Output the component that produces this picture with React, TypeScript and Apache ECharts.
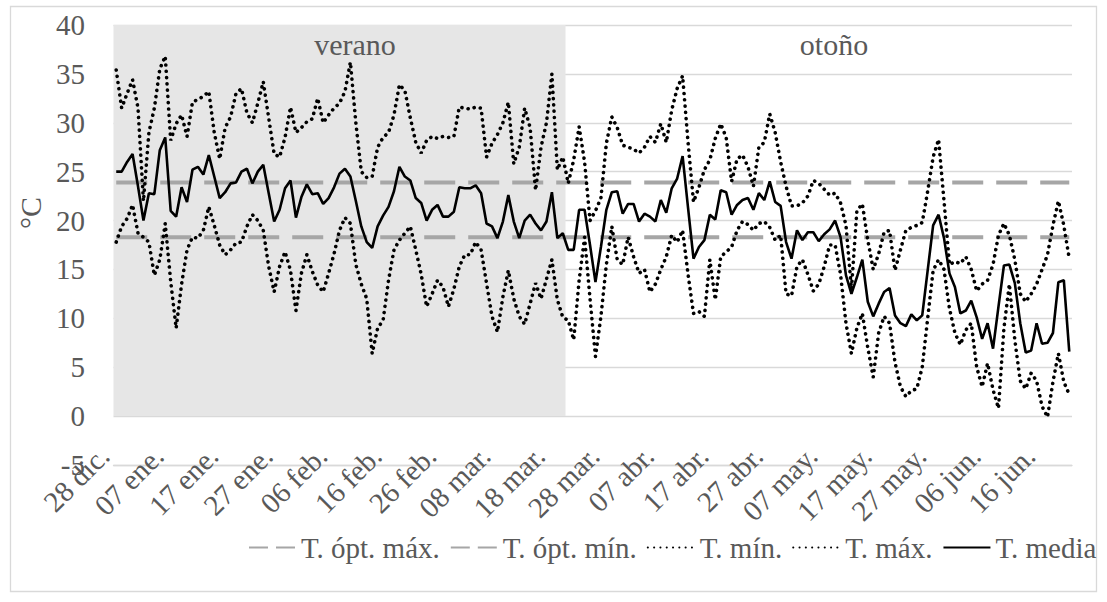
import React, { useEffect, useRef } from "react";
import * as echarts from "echarts";

const FONT = "Liberation Serif, serif";

// Categories: daily dates from 28 dic. to 21 jun. (176 days)
const MONTHS = ["ene.", "feb.", "mar.", "abr.", "may.", "jun.", "jul.", "ago.", "sep.", "oct.", "nov.", "dic."];
const START_DATE = Date.UTC(2018, 11, 28);
const N_DAYS = 176;
const categories: string[] = Array.from({ length: N_DAYS }, (_, i) => {
  const d = new Date(START_DATE + i * 86400000);
  return `${String(d.getUTCDate()).padStart(2, "0")} ${MONTHS[d.getUTCMonth()]}`;
});

const T_OPT_MAX = 23.9;
const T_OPT_MIN = 18.3;
const SUMMER_LAST_DAY = "20 mar.";
const SUMMER_BAND_TOP = 40;

const tMax = [
  35.4, 31.5, 33.0, 34.4, 31.5, 22.0, 29.0, 31.5, 35.5, 36.8,
  28.2, 29.9, 30.8, 28.6, 32.1, 32.4, 32.7, 33.2, 29.0, 26.3,
  29.5, 30.6, 33.0, 33.5, 31.0, 30.0, 32.0, 34.2, 30.5, 26.8,
  26.5, 28.5, 31.6, 29.0, 29.5, 30.1, 30.4, 32.5, 30.0, 30.8,
  31.5, 32.0, 33.2, 36.2, 30.0, 25.0, 24.4, 24.5, 27.5, 28.5,
  29.0, 30.8, 33.9, 33.3, 30.5, 28.0, 26.9, 28.2, 28.6, 28.4,
  28.6, 28.5, 28.6, 31.6, 31.5, 31.4, 31.6, 31.5, 26.5, 27.9,
  28.8, 30.0, 32.1, 25.8, 27.5, 31.5, 29.5, 23.1, 27.5, 30.0,
  35.0, 25.2, 26.5, 23.8, 26.2, 29.6, 26.0, 20.0, 21.0, 22.3,
  27.9, 30.6, 29.5, 27.7, 27.5, 27.3, 26.9, 27.5, 28.6, 28.0,
  29.9, 28.0, 31.3, 33.5, 34.8, 28.0, 21.9, 23.4, 25.2, 26.2,
  28.4, 29.9, 28.5, 24.0, 26.3, 26.7, 25.5, 23.5, 27.5, 28.0,
  30.9, 29.0, 26.0, 23.5, 21.5, 21.5, 21.8, 22.5, 24.1, 23.8,
  23.2, 22.6, 22.8, 21.8, 19.5, 13.0, 21.0, 21.7, 18.0, 15.0,
  16.6, 18.8, 19.0, 14.9, 17.0, 19.0, 19.3, 19.5, 19.8, 23.0,
  26.5, 28.3, 22.0, 15.5, 15.8, 15.6, 16.3, 15.0, 12.8, 13.5,
  13.9, 15.5, 18.5, 19.7, 18.5, 16.0, 12.5, 11.7, 12.5, 13.5,
  15.0, 16.5, 19.5, 22.0, 19.5, 16.1,
];

const tMin = [
  17.8, 19.4, 20.2, 21.6, 18.7, 18.3, 17.8, 14.4, 16.0, 19.7,
  13.8, 9.0, 13.5, 17.0, 18.3, 18.2, 19.0, 21.4, 19.5, 17.5,
  16.5, 17.0, 17.7, 17.8, 19.4, 20.6, 20.0, 19.0, 15.3, 12.7,
  15.3, 16.8, 14.9, 10.8, 14.6, 16.5, 14.8, 13.4, 12.7, 14.6,
  16.6, 19.0, 20.3, 19.7, 15.5, 13.5, 12.0, 6.4, 9.0, 9.8,
  13.9, 17.0, 18.0, 18.7, 19.4, 17.0, 14.5, 11.2, 12.5, 13.9,
  13.2, 11.2, 13.0, 15.3, 16.5, 16.5, 17.8, 17.0, 13.6, 10.2,
  8.6, 12.2, 14.9, 12.0, 10.2, 9.4, 11.5, 13.6, 12.0, 14.0,
  16.0, 11.9, 10.1, 9.8, 7.8, 13.9, 18.3, 12.0, 6.1, 10.2,
  15.5, 19.4, 16.0, 15.5, 18.3, 16.3, 14.6, 15.0, 12.7, 13.5,
  15.0, 16.3, 18.5, 17.8, 19.0, 14.5, 10.5, 10.7, 10.2, 16.0,
  11.9, 16.3, 16.8, 17.3, 19.0, 19.9, 19.6, 19.0, 19.7, 19.9,
  19.3, 18.0, 18.5, 12.5, 12.3, 15.3, 16.0, 14.5, 12.8, 13.5,
  15.3, 17.5, 17.5, 14.5, 9.5, 6.4, 9.0, 10.5, 7.0, 4.0,
  8.5, 10.2, 9.5, 5.5, 3.0, 2.0, 2.6, 2.8, 5.0, 10.0,
  14.9, 16.0, 15.0, 11.0, 8.5, 7.3, 8.8, 9.5, 5.0, 3.0,
  5.4, 2.7, 0.8, 9.0, 13.5, 7.8, 3.6, 2.8, 4.4, 3.6,
  1.0, -0.1, 3.5, 6.4, 3.5, 2.2,
];

const tMedia = [
  25.0, 25.0, 26.0, 26.8, 23.5, 20.0, 22.8, 22.7, 27.2, 28.5,
  21.0, 20.4, 23.4, 21.9, 25.2, 25.5, 24.7, 26.7, 24.5, 22.3,
  22.9, 23.8, 23.9, 25.0, 25.3, 23.8, 25.0, 25.7, 22.8, 19.9,
  21.1, 23.3, 24.1, 20.3, 22.4, 23.7, 22.7, 22.8, 21.7, 22.3,
  23.4, 24.8, 25.3, 24.5, 22.0, 19.4, 17.8, 17.2, 19.4, 20.5,
  21.4, 23.0, 25.5, 24.5, 24.1, 22.3, 21.8, 20.0, 21.1, 21.6,
  20.4, 20.4, 20.9, 23.4, 23.3, 23.3, 23.6, 22.8, 19.7, 19.4,
  18.2, 19.9, 22.6, 19.9, 18.2, 20.0, 20.6, 19.7, 19.0, 19.9,
  22.9, 18.2, 18.7, 17.0, 17.0, 21.1, 21.1, 17.5, 13.7, 17.3,
  21.1, 22.9, 23.0, 20.7, 21.7, 21.7, 19.9, 20.7, 20.4, 19.9,
  22.1, 20.8, 23.3, 24.3, 26.6, 21.3, 16.1, 17.3, 18.0, 20.6,
  20.1, 23.1, 22.9, 20.6, 21.6, 22.1, 22.3, 21.1, 22.8, 22.1,
  24.0, 21.9, 21.5, 17.8, 16.1, 19.0, 18.0, 18.8, 18.8, 17.9,
  18.6, 19.1, 20.0, 18.3, 14.4, 12.5, 14.2, 16.0, 11.7, 10.2,
  11.5, 12.7, 13.1, 10.3, 9.5, 9.2, 10.4, 9.8, 10.3, 14.9,
  19.5, 20.6, 18.2, 14.6, 13.2, 10.5, 10.8, 11.8, 10.1, 7.9,
  9.5, 6.9, 11.2, 15.4, 15.5, 13.6, 9.5, 6.5, 6.7, 9.5,
  7.4, 7.5, 8.5, 13.7, 13.9, 6.6,
];

const Y_MIN = -5;
const Y_MAX = 40;
const Y_STEP = 5;

const SERIES_NAMES = ["T. ópt. máx.", "T. ópt. mín.", "T. mín.", "T. máx.", "T. media"];

export default function App() {
  const ref = useRef<HTMLDivElement>(null);
  useEffect(() => {
    if (!ref.current) return;
    const chart = echarts.init(ref.current, undefined, { renderer: "svg" });
    const dashed = { color: "#a6a6a6", width: 4, type: [31, 13] as number[], cap: "butt" };
    const dotted = { color: "#000000", width: 3.6, type: [0.1, 6.2] as number[], cap: "round" };
    const hiddenSymbol = { color: "rgba(0,0,0,0)", borderWidth: 0, opacity: 0 };
    const summerEnd = categories.indexOf(SUMMER_LAST_DAY);
    chart.setOption({
      animation: false,
      backgroundColor: "#ffffff",
      textStyle: { fontFamily: FONT },
      grid: { left: 113.5, right: 35, top: 25, bottom: 137, containLabel: false },
      xAxis: [
        {
          type: "category",
          data: categories,
          boundaryGap: true,
          axisLine: { show: true, onZero: false, lineStyle: { color: "#d9d9d9", width: 1.3 } },
          axisTick: { show: false },
          axisLabel: {
            interval: 9,
            rotate: 45,
            margin: -26,
            padding: [0, 17, 0, 0],
            fontSize: 29,
            color: "#595959",
            fontFamily: FONT,
          },
          splitLine: { show: false },
        },
        {
          // hidden day-index axis covering the same band, used for the season shading
          type: "value",
          show: false,
          min: -0.5,
          max: N_DAYS - 0.5,
          position: "top",
          splitLine: { show: false },
        },
      ],
      yAxis: {
        type: "value",
        min: Y_MIN,
        max: Y_MAX,
        interval: Y_STEP,
        axisLine: { show: false },
        axisTick: { show: false },
        axisLabel: { fontSize: 29, color: "#595959", margin: 28.5, fontFamily: FONT },
        splitLine: { lineStyle: { color: "#d9d9d9", width: 1.3 } },
      },
      legend: {
        left: 243,
        top: 528,
        width: 900,
        itemWidth: 47,
        itemHeight: 14,
        itemGap: 10,
        itemStyle: hiddenSymbol,
        textStyle: { fontSize: 29, color: "#595959", fontFamily: FONT },
        data: [
          { name: SERIES_NAMES[0], itemStyle: hiddenSymbol, lineStyle: { type: [19, 8] } },
          { name: SERIES_NAMES[1], itemStyle: hiddenSymbol, lineStyle: { type: [19, 8] } },
          { name: SERIES_NAMES[2], itemStyle: hiddenSymbol },
          { name: SERIES_NAMES[3], itemStyle: hiddenSymbol },
          { name: SERIES_NAMES[4], itemStyle: hiddenSymbol },
        ],
      },
      graphic: [
        {
          type: "rect",
          silent: true,
          z: -10,
          shape: { x: 10.5, y: 6.5, width: 1086, height: 585 },
          style: { fill: "none", stroke: "#d9d9d9", lineWidth: 1.3 },
        },
        {
          type: "text",
          silent: true,
          z: 100,
          x: 355,
          y: 44,
          style: { text: "verano", fill: "#595959", fontSize: 30, fontFamily: FONT, align: "center", verticalAlign: "middle" },
        },
        {
          type: "text",
          silent: true,
          z: 100,
          x: 834,
          y: 44,
          style: { text: "otoño", fill: "#595959", fontSize: 30, fontFamily: FONT, align: "center", verticalAlign: "middle" },
        },
        {
          type: "text",
          silent: true,
          z: 100,
          x: 30,
          y: 213,
          rotation: Math.PI / 2,
          style: { text: "°C", fill: "#595959", fontSize: 30, fontFamily: FONT, align: "center", verticalAlign: "middle" },
        },
      ],
      series: [
        {
          name: "verano",
          type: "line",
          xAxisIndex: 1,
          data: [],
          silent: true,
          z: 1,
          markArea: {
            silent: true,
            itemStyle: { color: "#e6e6e6" },
            data: [[{ xAxis: -0.5, yAxis: 0 }, { xAxis: summerEnd + 0.5, yAxis: SUMMER_BAND_TOP }]],
          },
        },
        {
          name: SERIES_NAMES[0],
          type: "line",
          data: categories.map(() => T_OPT_MAX),
          symbol: "none",
          showSymbol: false,
          color: "#a6a6a6",
          lineStyle: dashed,
        },
        {
          name: SERIES_NAMES[1],
          type: "line",
          data: categories.map(() => T_OPT_MIN),
          symbol: "none",
          showSymbol: false,
          color: "#a6a6a6",
          lineStyle: dashed,
        },
        { name: SERIES_NAMES[2], type: "line", data: tMin, symbol: "none", showSymbol: false, color: "#000000", lineStyle: dotted },
        { name: SERIES_NAMES[3], type: "line", data: tMax, symbol: "none", showSymbol: false, color: "#000000", lineStyle: dotted },
        {
          name: SERIES_NAMES[4],
          type: "line",
          data: tMedia,
          symbol: "none",
          showSymbol: false,
          color: "#000000",
          lineStyle: { color: "#000000", width: 2.6 },
        },
      ],
    });
    return () => chart.dispose();
  }, []);
  return <div ref={ref} style={{ position: "absolute", left: 0, top: 0, width: 1107, height: 602 }} />;
}
